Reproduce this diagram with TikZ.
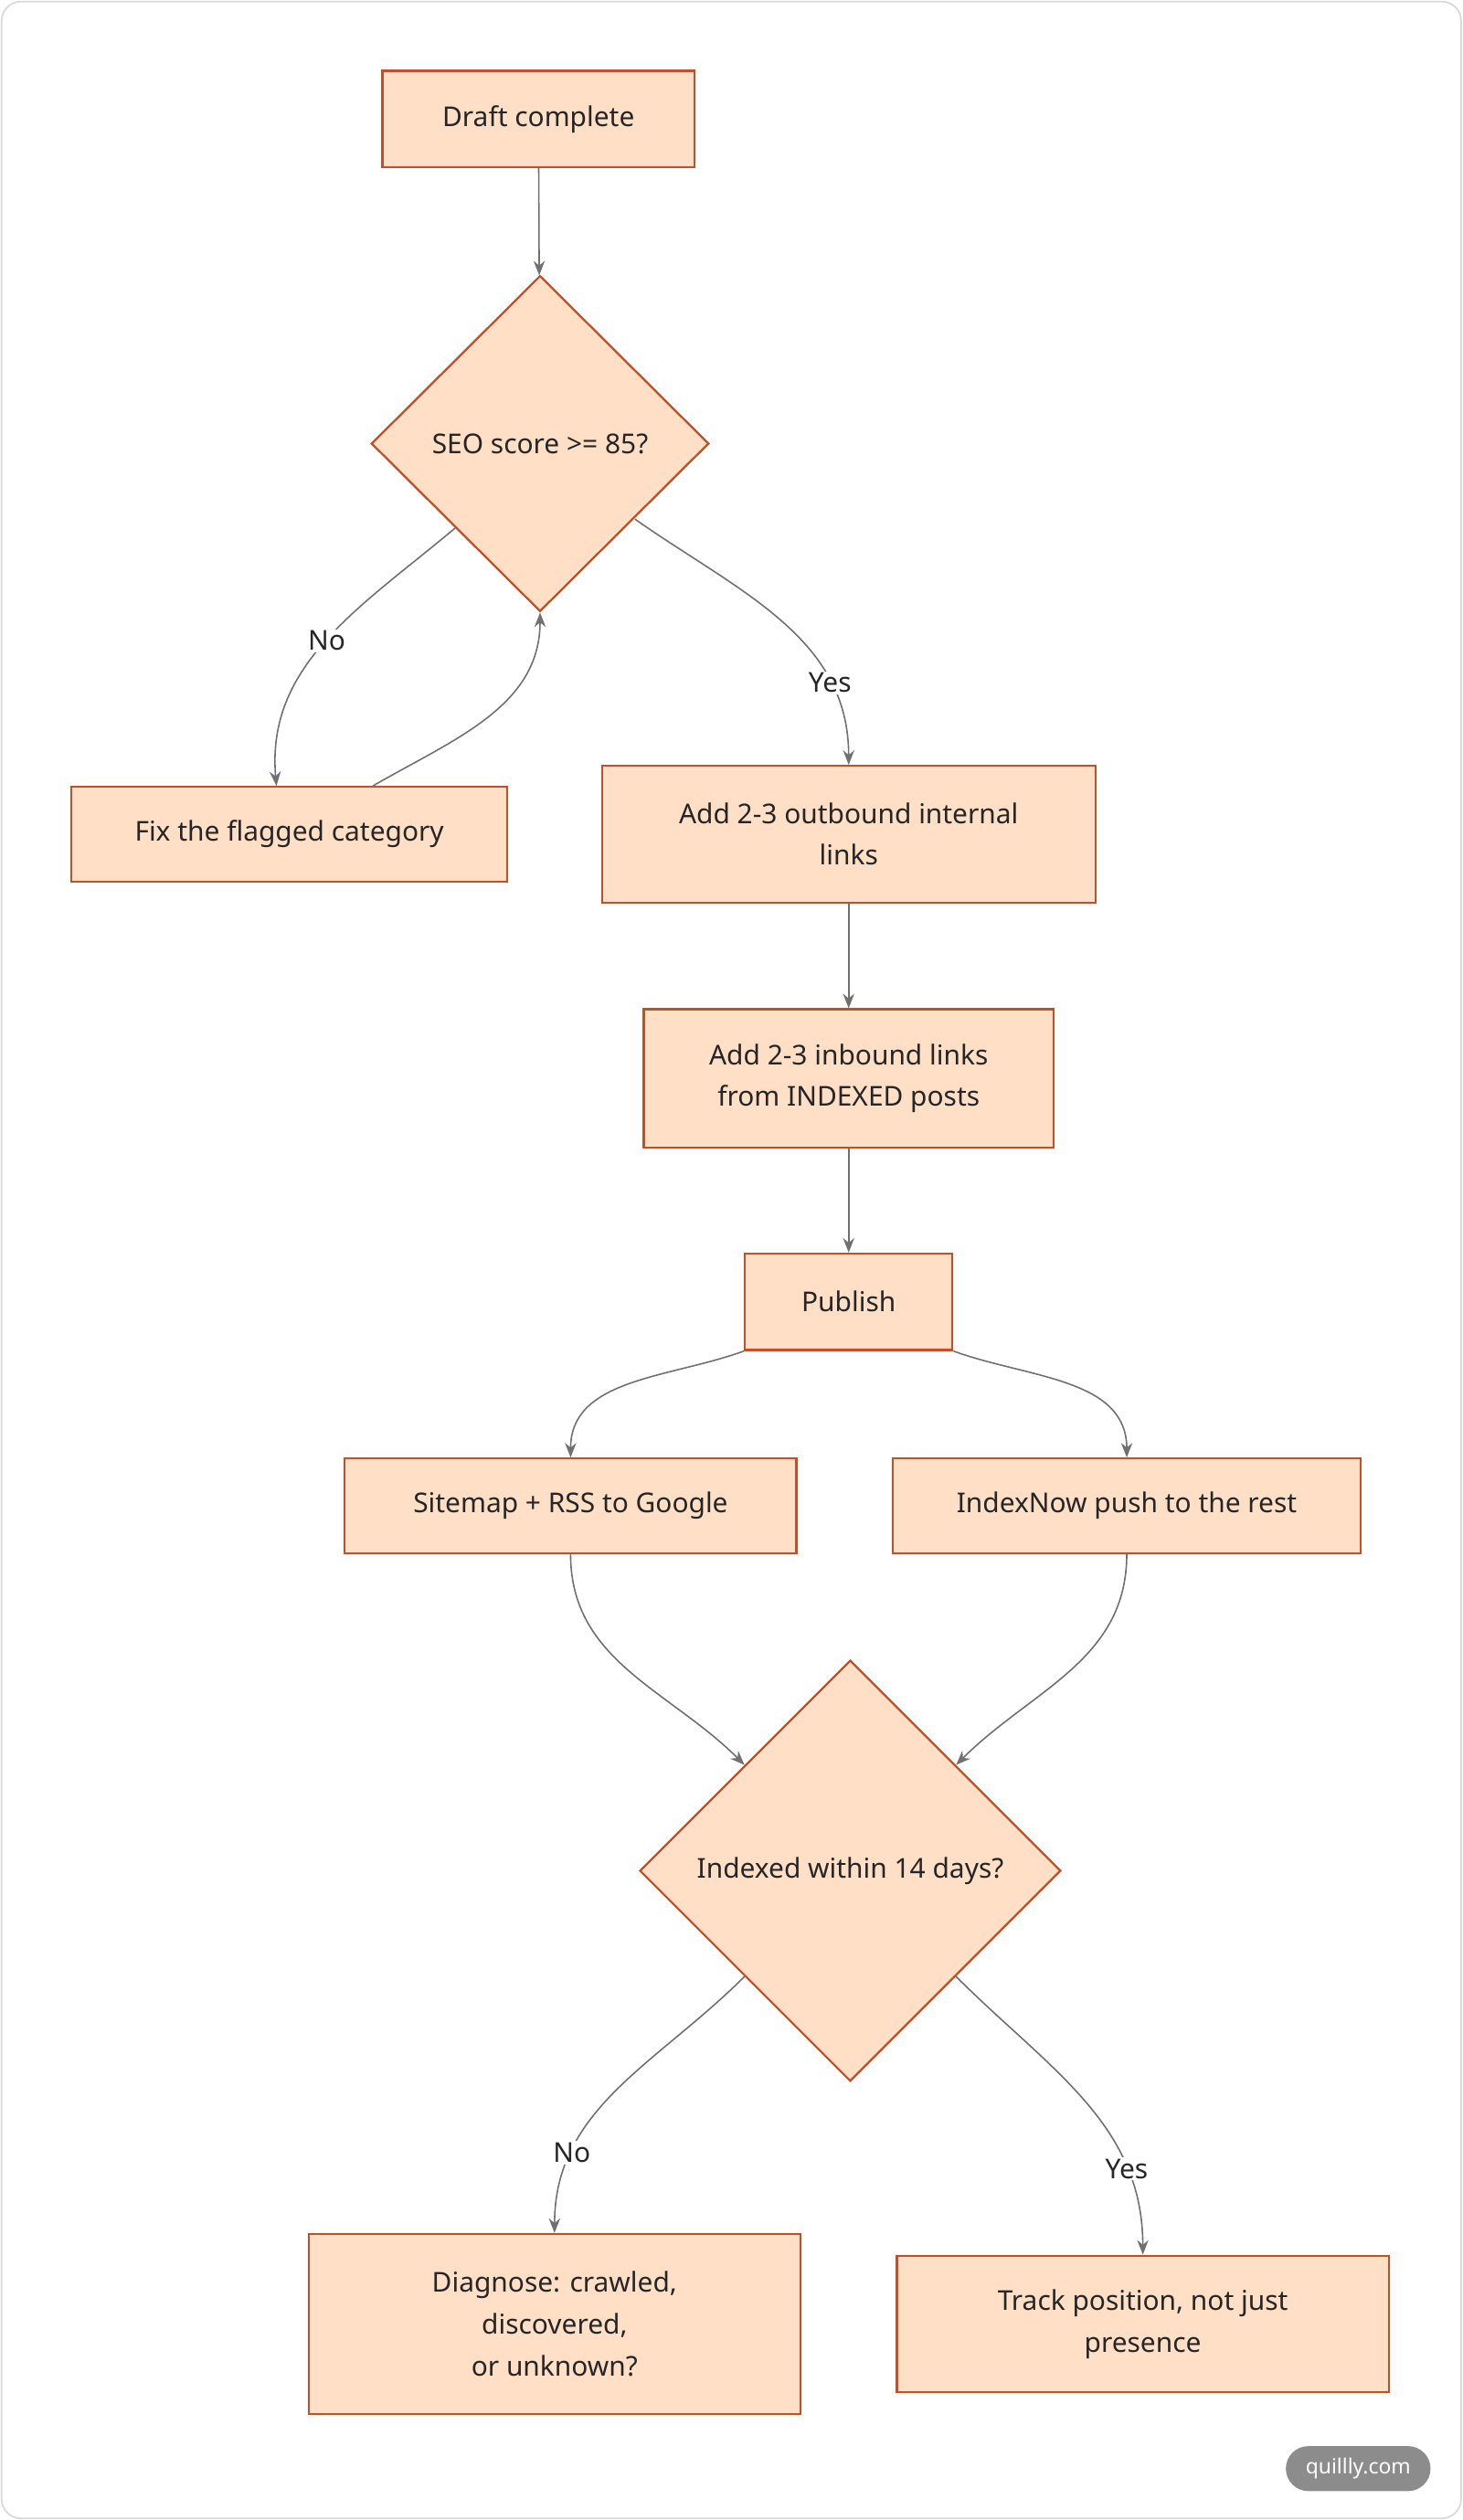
\documentclass[tikz,border=0pt]{standalone}
\usepackage{fontspec}
\setmainfont{Noto Sans}
\usetikzlibrary{shapes.geometric,arrows.meta}
\definecolor{boxfill}{HTML}{FFDFC6}
\definecolor{boxline}{HTML}{C0502A}
\definecolor{edgecol}{HTML}{707070}
\begin{document}
\begin{tikzpicture}[x=1pt,y=-1pt,
  every node/.style={font=\fontsize{17}{26}\selectfont,text=black!85},
  stepbox/.style={draw=boxline,fill=boxfill,line width=1.3pt,inner sep=0pt,align=center},
  decision/.style={draw=boxline,fill=boxfill,line width=1.3pt,diamond,inner sep=0pt,align=center},
  flow/.style={draw=edgecol,line width=0.9pt,-{Stealth[length=9pt,width=7pt]}},
  lbl/.style={fill=white,inner sep=1pt}]
\draw[draw=black!15,line width=1pt,rounded corners=12pt,fill=white] (1,1) rectangle (909,1567);
\useasboundingbox (0,0) rectangle (910,1568);
\node[stepbox,minimum width=194pt,minimum height=60pt] (draft) at (335,74) {Draft complete};
\node[decision,minimum width=210pt,minimum height=209pt] (seo) at (336,276) {SEO score >= 85?};
\node[stepbox,minimum width=271pt,minimum height=59pt] (fix) at (180,519) {Fix the flagged category};
\node[stepbox,minimum width=307pt,minimum height=85pt] (out) at (528,519) {Add 2-3 outbound internal\\links};
\node[stepbox,minimum width=255pt,minimum height=86pt] (in) at (528,671) {Add 2-3 inbound links\\from INDEXED posts};
\node[stepbox,minimum width=129pt,minimum height=60pt] (pub) at (528,810) {Publish};
\node[stepbox,minimum width=281pt,minimum height=59pt] (site) at (355,937) {Sitemap + RSS to Google};
\node[stepbox,minimum width=291pt,minimum height=59pt] (idx) at (701,937) {IndexNow push to the rest};
\node[decision,minimum width=262pt,minimum height=262pt] (ind) at (529,1164) {Indexed within 14 days?};
\node[stepbox,minimum width=306pt,minimum height=112pt] (diag) at (345,1446) {Diagnose: crawled,\\discovered,\\or unknown?};
\node[stepbox,minimum width=306pt,minimum height=85pt] (track) at (711,1446) {Track position, not just\\presence};
\node[fill=black!45,rounded corners=14pt,minimum width=90pt,minimum height=28pt,inner sep=0pt,text=white,font=\fontsize{13}{15}\selectfont] (badge) at (845,1536) {quillly.com};

\coordinate (fixin) at (172,489);
\coordinate (fixout) at (232,489);
\coordinate (seoR) at (395,323);
\draw[flow] (draft) -- (seo);
\draw[flow] (seo.south west) to[out=220,in=95] node[lbl,pos=0.5] {No} (fixin);
\draw[flow] (fixout) to[out=30,in=-90] (seo.south);
\draw[flow] (seoR) to[out=-35,in=90] node[lbl,pos=0.75] {Yes} (out.north);
\draw[flow] (out) -- (in);
\draw[flow] (in) -- (pub);
\draw[flow] (pub.south west) to[out=200,in=90] (site.north);
\draw[flow] (pub.south east) to[out=-20,in=90] (idx.north);
\draw[flow] (site.south) to[out=-90,in=135] (ind.north west);
\draw[flow] (idx.south) to[out=-90,in=45] (ind.north east);
\draw[flow] (ind.south west) to[out=225,in=90] node[lbl,pos=0.75] {No} (diag.north);
\draw[flow] (ind.south east) to[out=-45,in=90] node[lbl,pos=0.75] {Yes} (track.north);
\end{tikzpicture}
\end{document}
